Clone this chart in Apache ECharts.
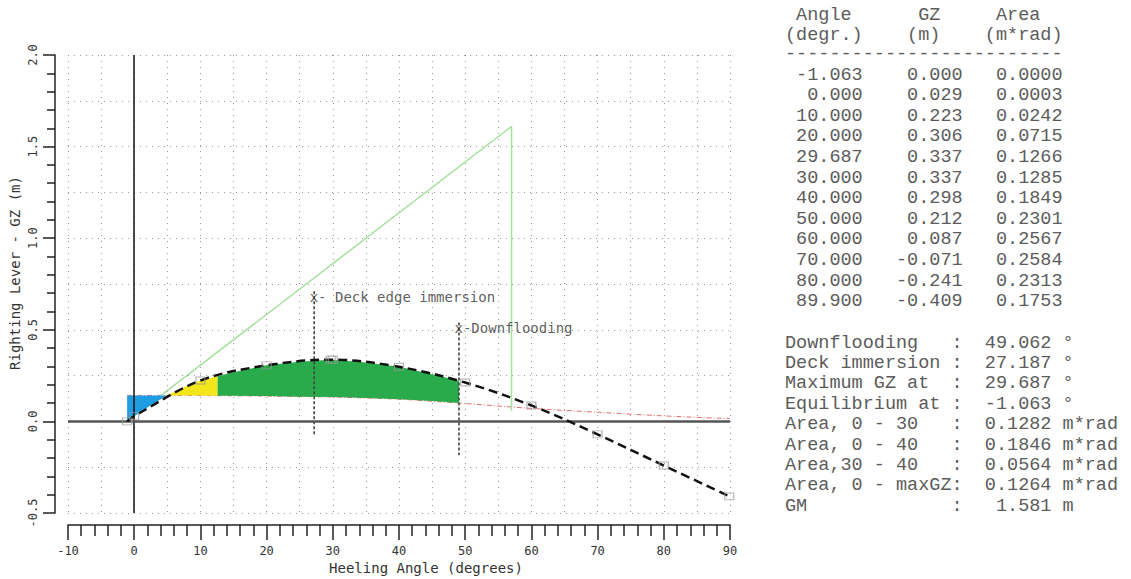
<!DOCTYPE html>
<html>
<head>
<meta charset="utf-8">
<script src="https://cdn.jsdelivr.net/npm/echarts@6/dist/echarts.min.js"></script>
<style>
html,body{margin:0;padding:0;background:#fff;}
#c{width:1131px;height:579px;}
</style>
</head>
<body>
<div id="c"></div>
<script>
// ---- GZ table data ----
const angles = [-1.063, 0, 10, 20, 29.687, 30, 40, 50, 60, 70, 80, 89.9];
const gz     = [0.000, 0.029, 0.223, 0.306, 0.337, 0.337, 0.298, 0.212, 0.087, -0.071, -0.241, -0.409];
const areas  = [0.0000, 0.0003, 0.0242, 0.0715, 0.1266, 0.1285, 0.1849, 0.2301, 0.2567, 0.2584, 0.2313, 0.1753];

// ---- summary block ----
const summaryLabels = ['Downflooding', 'Deck immersion', 'Maximum GZ at', 'Equilibrium at',
  'Area, 0 - 30', 'Area, 0 - 40', 'Area,30 - 40', 'Area, 0 - maxGZ', 'GM'];
const summaryValues = ['49.062', '27.187', '29.687', '-1.063', '0.1282', '0.1846', '0.0564', '0.1264', '1.581'];
const summaryUnits  = ['°', '°', '°', '°', 'm*rad', 'm*rad', 'm*rad', 'm*rad', 'm'];
const headerNames = ['Angle', 'GZ', 'Area'];
const headerUnits = ['(degr.)', '(m)', '(m*rad)'];

// ---- heeling lever (red dash-dot) ----
const heelAngles = [-1.063, 10, 20, 30, 40, 49.062, 60, 70, 80, 90];
const heelLever  = [0.142, 0.141, 0.138, 0.133, 0.121, 0.100, 0.071, 0.050, 0.030, 0.015];

// ---- GM line (light green) ----
const gmAngles = [-1.063, 57.0, 57.0];
const gmValues = [0.0, 1.61, 0.06];

// ---- filled areas (angle, upper value, lower value) ----
const blueAngles  = [-1.063, 0, 2.5, 4.9];
const blueTop     = [0.142, 0.142, 0.142, 0.142];
const blueBottom  = [0.000, 0.029, 0.088, 0.142];
const yellowAngles = [4.9, 8, 10, 12.6];
const yellowTop    = [0.142, 0.194, 0.223, 0.246];
const yellowBottom = [0.142, 0.141, 0.141, 0.140];
const greenAngles = [12.6, 15, 20, 25, 29.687, 30, 35, 40, 45, 49.062];
const greenTop    = [0.246, 0.268, 0.306, 0.326, 0.337, 0.337, 0.322, 0.298, 0.258, 0.222];
const greenBottom = [0.140, 0.140, 0.138, 0.135, 0.133, 0.133, 0.128, 0.121, 0.112, 0.100];

// ---- vertical markers ----
const markAngles = [27.187, 49.062];
const markTops   = [0.71, 0.54];
const markBottoms = [-0.08, -0.185];
const markLabelLevels = [0.68, 0.51];
const markLabels = ['x- Deck edge immersion', 'x-Downflooding'];

const MONO = '"DejaVu Sans Mono", monospace';
const TABLE_FONT = '18.5px "Liberation Mono", "Courier New", monospace';

function band(a, top, bot, color) {
  return {
    type: 'custom', z: 3, silent: true, animation: false,
    data: [[a[0], top[0]]],
    renderItem: function (params, api) {
      const pts = [];
      for (let i = 0; i < a.length; i++) pts.push(api.coord([a[i], top[i]]));
      for (let i = a.length - 1; i >= 0; i--) pts.push(api.coord([a[i], bot[i]]));
      return { type: 'polygon', shape: { points: pts }, style: { fill: color } };
    }
  };
}

// table text
const graphics = [];
const TX = 785;
const headerLine1 = ' ' + headerNames[0] + '      ' + headerNames[1] + '     ' + headerNames[2];
const headerLine2 = headerUnits[0] + '    ' + headerUnits[1] + '    ' + headerUnits[2];
const lines = [[headerLine1, 15], [headerLine2, 35], ['-'.repeat(25), 54]];
angles.forEach((a, i) => {
  const s = a.toFixed(3).padStart(7) + gz[i].toFixed(3).padStart(9) + areas[i].toFixed(4).padStart(9);
  lines.push([s, 75 + i * 20.6]);
});
summaryLabels.forEach((l, i) => {
  const s = l.padEnd(15) + ': ' + summaryValues[i].padStart(7) + ' ' + summaryUnits[i];
  lines.push([s, 343 + i * 20.4]);
});
lines.forEach(([t, y]) => {
  graphics.push({ type: 'text', x: TX, y: y, silent: true,
    style: { text: t, font: TABLE_FONT, fill: '#5c5c5c', align: 'left', verticalAlign: 'middle' } });
});
// axis titles
graphics.push({ type: 'text', x: 15, y: 273, rotation: Math.PI / 2, silent: true,
  style: { text: 'Righting Lever - GZ (m)', font: '14px ' + MONO, fill: '#333', align: 'center', verticalAlign: 'middle' } });
graphics.push({ type: 'text', x: 426, y: 568, silent: true,
  style: { text: 'Heeling Angle (degrees)', font: '14px ' + MONO, fill: '#333', align: 'center', verticalAlign: 'middle' } });

const chart = echarts.init(document.getElementById('c'), null, { renderer: 'svg' });
const axisCol = '#222';
const gridLine = { show: true, lineStyle: { type: [1, 5], color: '#9a9a9a', width: 1 } };

chart.setOption({
  animation: false,
  backgroundColor: '#fff',
  grid: { left: 68, top: 55, width: 662, height: 458 },
  xAxis: [
    { type: 'value', min: -10, max: 90, interval: 10, position: 'bottom', offset: 12,
      axisLine: { show: true, onZero: false, lineStyle: { color: axisCol, width: 1.5 } },
      axisTick: { show: true, length: 15, lineStyle: { color: axisCol, width: 1.5 } },
      minorTick: { show: true, splitNumber: 5, length: 11, lineStyle: { color: axisCol, width: 1.5 } },
      axisLabel: { margin: 20, color: '#333', fontFamily: MONO, fontSize: 12 },
      splitLine: { show: false } },
    { type: 'value', min: -10, max: 90, interval: 5, position: 'top',
      axisLine: { show: false, onZero: false }, axisTick: { show: false }, axisLabel: { show: false },
      splitLine: gridLine }
  ],
  yAxis: [
    { type: 'value', min: -0.5, max: 2.0, interval: 0.5, position: 'left', offset: 13,
      axisLine: { show: true, onZero: false, lineStyle: { color: axisCol, width: 1.5 } },
      axisTick: { show: true, length: 12, lineStyle: { color: axisCol, width: 1.5 } },
      minorTick: { show: true, splitNumber: 5, length: 8, lineStyle: { color: axisCol, width: 1.5 } },
      axisLabel: { rotate: 90, margin: 16, color: '#333', fontFamily: MONO, fontSize: 12,
        formatter: v => v.toFixed(1) },
      splitLine: { show: false } },
    { type: 'value', min: -0.5, max: 2.0, interval: 0.25, position: 'right',
      axisLine: { show: false, onZero: false }, axisTick: { show: false }, axisLabel: { show: false },
      splitLine: gridLine }
  ],
  graphic: graphics,
  series: [
    { type: 'line', name: 'heel', z: 2, smooth: 0.3, symbol: 'none', silent: true,
      data: heelAngles.map((a, i) => [a, heelLever[i]]),
      lineStyle: { color: '#e07070', width: 1, type: [5, 2, 1, 2] },
      markLine: { symbol: ['none', 'none'], silent: true, animation: false, label: { show: false },
        data: [
          { xAxis: 0, lineStyle: { color: '#111', width: 1.5, type: 'solid' } },
          { yAxis: 0, lineStyle: { color: '#555', width: 2.5, type: 'solid' } }
        ] } },
    { type: 'line', name: 'GM', z: 2, symbol: 'none', silent: true,
      data: gmAngles.map((a, i) => [a, gmValues[i]]),
      lineStyle: { color: '#a6e09e', width: 1.5 } },
    band(blueAngles, blueTop, blueBottom, '#1e9de3'),
    band(yellowAngles, yellowTop, yellowBottom, '#f3e61b'),
    band(greenAngles, greenTop, greenBottom, '#2aab4b'),
    ...markAngles.map((a, i) => ({
      type: 'line', z: 4, symbol: 'none', silent: true,
      data: [[a, markTops[i]], [a, markBottoms[i]]],
      lineStyle: { color: '#444', width: 1.6, type: [3, 2] } })),
    { type: 'scatter', z: 7, silent: true, symbol: 'circle', symbolSize: 1,
      itemStyle: { color: 'rgba(0,0,0,0)' },
      data: markAngles.map((a, i) => ({ value: [a, markLabelLevels[i]],
        label: { show: true, position: 'right', distance: 0, offset: [-5, 0], formatter: markLabels[i],
          fontFamily: MONO, fontSize: 14, color: '#333' } })) },
    { type: 'line', name: 'GZ', z: 5, smooth: 0.35, symbol: 'none', silent: true,
      data: angles.map((a, i) => [a, gz[i]]),
      lineStyle: { color: '#111', width: 2.5, type: [9, 5] } },
    { type: 'scatter', z: 6, silent: true, symbol: 'rect', symbolSize: [9, 7],
      data: angles.map((a, i) => [a, gz[i]]),
      itemStyle: { color: 'rgba(0,0,0,0)', borderColor: '#999', borderWidth: 1 } }
  ]
});
</script>
</body>
</html>
